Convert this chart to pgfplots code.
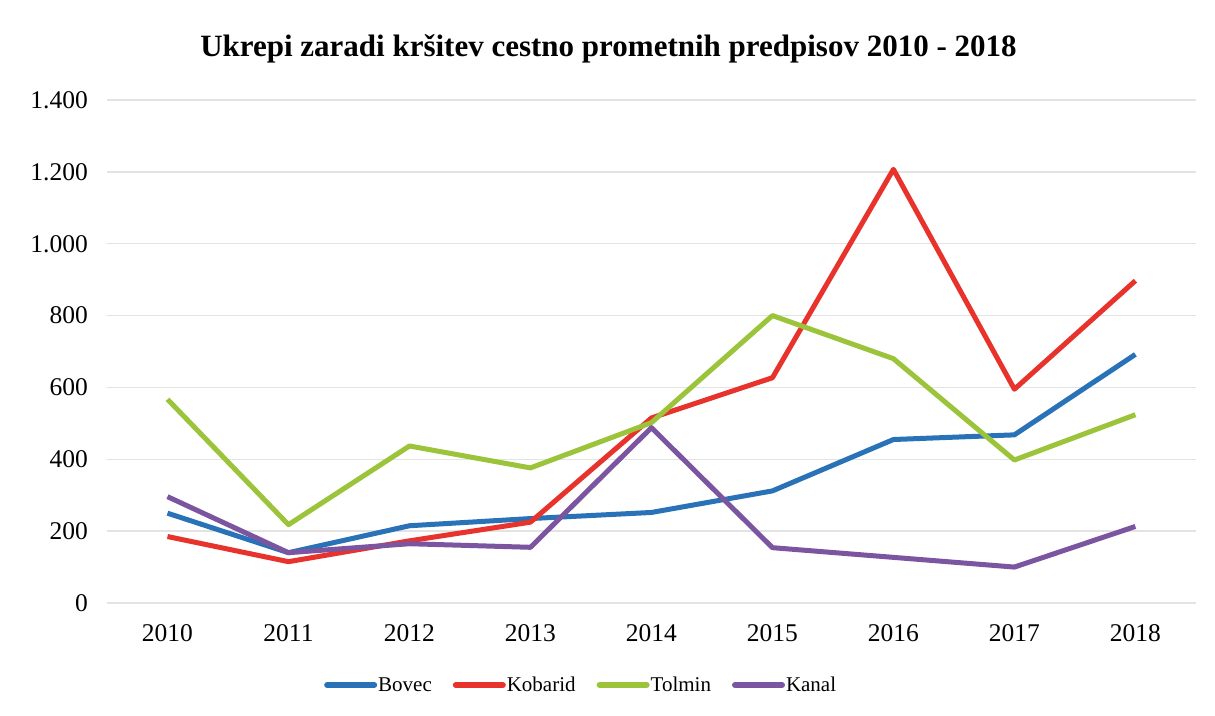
\documentclass[border=0pt]{standalone}
\usepackage{pgfplots}
\pgfplotsset{compat=1.18}
\usepackage{fontspec}
\setmainfont{Liberation Serif}
\definecolor{cBovec}{RGB}{42,114,184}
\definecolor{cKobarid}{RGB}{232,50,44}
\definecolor{cTolmin}{RGB}{155,196,58}
\definecolor{cKanal}{RGB}{123,85,160}
\begin{document}
\begin{tikzpicture}
\path[fill=white] (0,0) rectangle (1215pt,715pt);
\begin{axis}[
  at={(107pt,112pt)}, anchor=south west,
  scale only axis, width=1089pt, height=503pt,
  xmin=-0.5, xmax=8.5, ymin=0, ymax=1400,
  xtick={0,...,8},
  xticklabels={2010,2011,2012,2013,2014,2015,2016,2017,2018},
  ytick={0,200,...,1400},
  ymajorgrids, grid style={color=black!11, line width=1.5pt},
  axis line style={draw=none},
  major tick length=0pt,
  tick style={draw=none},
  /pgf/number format/.cd, 1000 sep={.}, assume math mode=true,
  /pgfplots/.cd,
  tick label style={font=\fontsize{25.5}{30}\selectfont, inner sep=0pt},
  yticklabel style={anchor=east, xshift=-19pt},
  xticklabel style={anchor=north, yshift=-21pt},
  title={\textbf{Ukrepi zaradi kršitev cestno prometnih predpisov 2010 - 2018}},
  title style={at={(0.4605,1.0755)}, anchor=base, font=\fontsize{31}{36}\selectfont},
  legend columns=4,
  legend style={at={(0.435,-0.163)}, anchor=center, draw=none, fill=none,
    font=\fontsize{21}{25}\selectfont, inner sep=0pt,
    /tikz/every even column/.append style={column sep=20pt},
    nodes={inner xsep=1pt}},
  legend image code/.code={\draw[#1, line width=6pt, line cap=round] (0pt,0pt) -- (47pt,0pt);},
  every axis plot/.append style={line width=5pt, line join=round, mark=none},
]
\addplot[cBovec] coordinates {(0,250) (1,140) (2,215) (3,235) (4,252) (5,312) (6,455) (7,468) (8,692)};
\addlegendentry{Bovec}
\addplot[cKobarid] coordinates {(0,185) (1,115) (2,173) (3,225) (4,515) (5,627) (6,1207) (7,595) (8,897)};
\addlegendentry{Kobarid}
\addplot[cTolmin] coordinates {(0,567) (1,218) (2,437) (3,376) (4,502) (5,800) (6,680) (7,398) (8,524)};
\addlegendentry{Tolmin}
\addplot[cKanal] coordinates {(0,296) (1,140) (2,165) (3,155) (4,488) (5,154) (6,127) (7,100) (8,213)};
\addlegendentry{Kanal}
\end{axis}
\end{tikzpicture}
\end{document}
